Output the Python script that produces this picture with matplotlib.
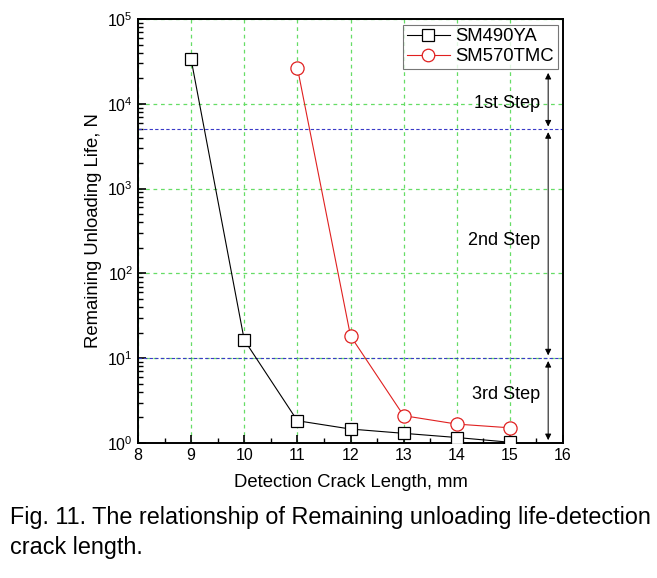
import numpy as np
import matplotlib.pyplot as plt
from matplotlib.ticker import LogLocator, MultipleLocator

plt.rcParams['font.family'] = ['Liberation Sans', 'DejaVu Sans']

crack = [9, 10, 11, 12, 13, 14, 15]
life_490 = [33500, 16.4, 1.83, 1.46, 1.30, 1.16, 1.02]
crack_570 = [11, 12, 13, 14, 15]
life_570 = [26700, 18.3, 2.10, 1.67, 1.51]
step_bounds = [25000, 5000, 10, 1]
step_names = ['1st Step', '2nd Step', '3rd Step']
step_text_y = [10000, 245, 3.7]

fig = plt.figure(figsize=(6.57, 5.78), dpi=100)
ax = fig.add_axes([0.210, 0.2336, 0.647, 0.7335])

ax.plot(crack, life_490, color='black', lw=0.8, marker='s', ms=9,
        mfc='white', mec='black', mew=0.9, label='SM490YA', zorder=3)
ax.plot(crack_570, life_570, color='#e02020', lw=0.8, marker='o', ms=9.5,
        mfc='white', mec='#e02020', mew=0.9, label='SM570TMC', zorder=3)

for yv in [5000, 10]:
    ax.axhline(yv, color='#3a3ac8', ls=(0, (3, 2)), lw=0.8, zorder=2)

ax.set_yscale('log')
ax.set_xlim(8, 16)
ax.set_ylim(1, 1e5)
ax.xaxis.set_major_locator(MultipleLocator(1))
ax.xaxis.set_minor_locator(MultipleLocator(0.5))
ax.yaxis.set_major_locator(LogLocator(base=10))
ax.yaxis.set_minor_locator(LogLocator(base=10, subs=np.arange(2, 10)))
ax.tick_params(which='both', direction='in', top=False, right=False, labelsize=11.5)
ax.tick_params(which='major', length=6, width=1.2)
ax.tick_params(which='minor', length=3.5, width=1)
ax.grid(True, which='major', color='#66dd66', ls=(0, (3, 3)), lw=0.9)
for s in ax.spines.values():
    s.set_linewidth(1.4)

xa = 15.72
for i in range(3):
    top, bot = step_bounds[i], step_bounds[i + 1]
    ax.annotate('', xy=(xa, bot * 1.08), xytext=(xa, top / 1.08),
                arrowprops=dict(arrowstyle='<|-|>', color='black', lw=0.7,
                                mutation_scale=9, shrinkA=0, shrinkB=0))
    ax.text(15.57, step_text_y[i], step_names[i], ha='right', va='center',
            fontsize=13)

ax.set_xlabel('Detection Crack Length, mm', fontsize=13.3, labelpad=8)
ax.set_ylabel('Remaining Unloading Life, N', fontsize=13.3, labelpad=4)

leg = ax.legend(loc='upper right', fontsize=13.3, frameon=True, fancybox=False,
                borderpad=0.2, handlelength=2.3, handletextpad=0.3,
                labelspacing=0.15, borderaxespad=0.3, markerscale=0.95)
leg.get_frame().set_edgecolor('#555555')
leg.get_frame().set_linewidth(0.8)

fig.text(0.015, 0.105, 'Fig. 11. The relationship of Remaining unloading life-detection',
         fontsize=16.8, va='center', ha='left')
fig.text(0.015, 0.053, 'crack length.', fontsize=16.8, va='center', ha='left')

fig.savefig('out.png', dpi=100)
